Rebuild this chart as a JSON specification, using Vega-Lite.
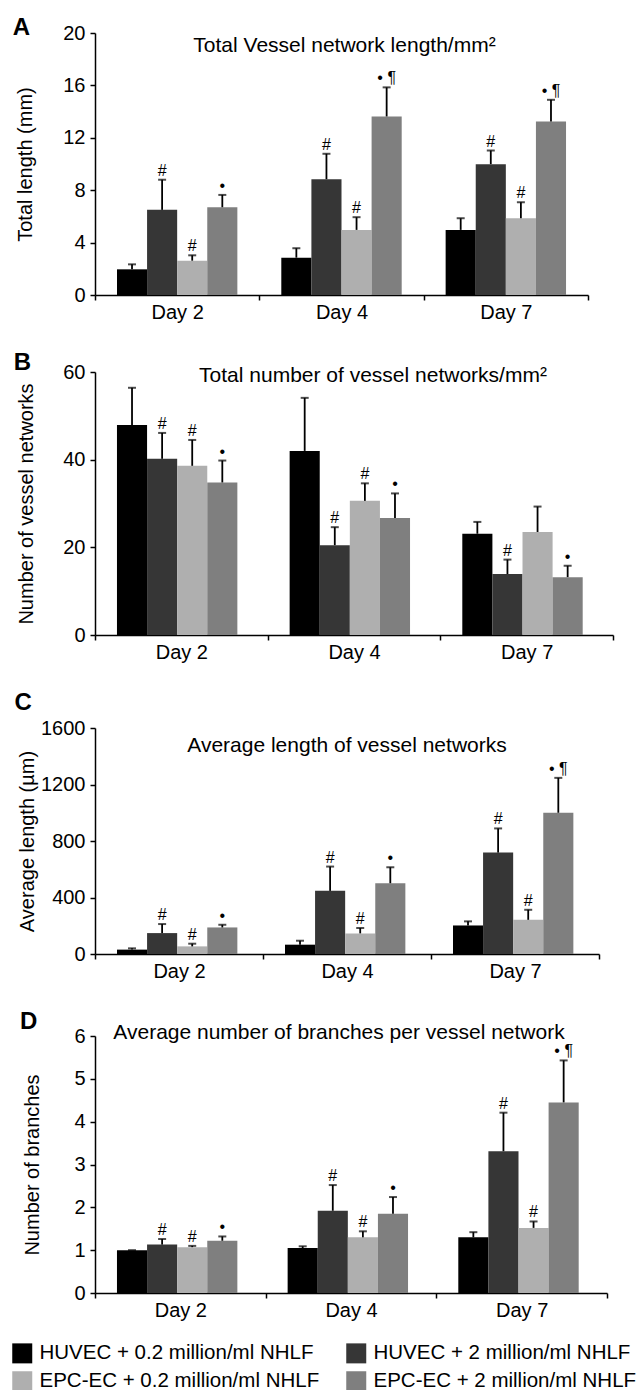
{
  "$schema": "https://vega.github.io/schema/vega-lite/v6.json",
  "padding": {"left": 12, "top": 16, "right": 0, "bottom": 0},
  "background": "#ffffff",
  "datasets": {
    "bars": [
      {"panel": "A", "day": "Day 2", "group": "HUVEC + 0.2 million/ml NHLF", "value": 1.96, "hi": 2.34, "sig": ""},
      {"panel": "A", "day": "Day 2", "group": "HUVEC + 2 million/ml NHLF", "value": 6.5, "hi": 8.8, "sig": "#"},
      {"panel": "A", "day": "Day 2", "group": "EPC-EC + 0.2 million/ml NHLF", "value": 2.62, "hi": 3.03, "sig": "#"},
      {"panel": "A", "day": "Day 2", "group": "EPC-EC + 2 million/ml NHLF", "value": 6.7, "hi": 7.64, "sig": "•"},
      {"panel": "A", "day": "Day 4", "group": "HUVEC + 0.2 million/ml NHLF", "value": 2.85, "hi": 3.57, "sig": ""},
      {"panel": "A", "day": "Day 4", "group": "HUVEC + 2 million/ml NHLF", "value": 8.84, "hi": 10.78, "sig": "#"},
      {"panel": "A", "day": "Day 4", "group": "EPC-EC + 0.2 million/ml NHLF", "value": 4.97, "hi": 5.94, "sig": "#"},
      {"panel": "A", "day": "Day 4", "group": "EPC-EC + 2 million/ml NHLF", "value": 13.63, "hi": 15.85, "sig": "• ¶"},
      {"panel": "A", "day": "Day 7", "group": "HUVEC + 0.2 million/ml NHLF", "value": 4.97, "hi": 5.86, "sig": ""},
      {"panel": "A", "day": "Day 7", "group": "HUVEC + 2 million/ml NHLF", "value": 9.99, "hi": 11.03, "sig": "#"},
      {"panel": "A", "day": "Day 7", "group": "EPC-EC + 0.2 million/ml NHLF", "value": 5.86, "hi": 7.08, "sig": "#"},
      {"panel": "A", "day": "Day 7", "group": "EPC-EC + 2 million/ml NHLF", "value": 13.25, "hi": 14.9, "sig": "• ¶"},

      {"panel": "B", "day": "Day 2", "group": "HUVEC + 0.2 million/ml NHLF", "value": 47.9, "hi": 56.4, "sig": ""},
      {"panel": "B", "day": "Day 2", "group": "HUVEC + 2 million/ml NHLF", "value": 40.2, "hi": 46.1, "sig": "#"},
      {"panel": "B", "day": "Day 2", "group": "EPC-EC + 0.2 million/ml NHLF", "value": 38.6, "hi": 44.5, "sig": "#"},
      {"panel": "B", "day": "Day 2", "group": "EPC-EC + 2 million/ml NHLF", "value": 34.8, "hi": 39.8, "sig": "•"},
      {"panel": "B", "day": "Day 4", "group": "HUVEC + 0.2 million/ml NHLF", "value": 42.0, "hi": 54.1, "sig": ""},
      {"panel": "B", "day": "Day 4", "group": "HUVEC + 2 million/ml NHLF", "value": 20.5, "hi": 24.6, "sig": "#"},
      {"panel": "B", "day": "Day 4", "group": "EPC-EC + 0.2 million/ml NHLF", "value": 30.6, "hi": 34.6, "sig": "#"},
      {"panel": "B", "day": "Day 4", "group": "EPC-EC + 2 million/ml NHLF", "value": 26.7, "hi": 32.3, "sig": "•"},
      {"panel": "B", "day": "Day 7", "group": "HUVEC + 0.2 million/ml NHLF", "value": 23.1, "hi": 25.8, "sig": ""},
      {"panel": "B", "day": "Day 7", "group": "HUVEC + 2 million/ml NHLF", "value": 13.9, "hi": 17.2, "sig": "#"},
      {"panel": "B", "day": "Day 7", "group": "EPC-EC + 0.2 million/ml NHLF", "value": 23.5, "hi": 29.3, "sig": ""},
      {"panel": "B", "day": "Day 7", "group": "EPC-EC + 2 million/ml NHLF", "value": 13.2, "hi": 15.8, "sig": "•"},

      {"panel": "C", "day": "Day 2", "group": "HUVEC + 0.2 million/ml NHLF", "value": 31, "hi": 40, "sig": ""},
      {"panel": "C", "day": "Day 2", "group": "HUVEC + 2 million/ml NHLF", "value": 148, "hi": 212, "sig": "#"},
      {"panel": "C", "day": "Day 2", "group": "EPC-EC + 0.2 million/ml NHLF", "value": 54, "hi": 73, "sig": "#"},
      {"panel": "C", "day": "Day 2", "group": "EPC-EC + 2 million/ml NHLF", "value": 188, "hi": 207, "sig": "•"},
      {"panel": "C", "day": "Day 4", "group": "HUVEC + 0.2 million/ml NHLF", "value": 66, "hi": 94, "sig": ""},
      {"panel": "C", "day": "Day 4", "group": "HUVEC + 2 million/ml NHLF", "value": 447, "hi": 619, "sig": "#"},
      {"panel": "C", "day": "Day 4", "group": "EPC-EC + 0.2 million/ml NHLF", "value": 146, "hi": 184, "sig": "#"},
      {"panel": "C", "day": "Day 4", "group": "EPC-EC + 2 million/ml NHLF", "value": 501, "hi": 614, "sig": "•"},
      {"panel": "C", "day": "Day 7", "group": "HUVEC + 0.2 million/ml NHLF", "value": 202, "hi": 231, "sig": ""},
      {"panel": "C", "day": "Day 7", "group": "HUVEC + 2 million/ml NHLF", "value": 718, "hi": 889, "sig": "#"},
      {"panel": "C", "day": "Day 7", "group": "EPC-EC + 0.2 million/ml NHLF", "value": 242, "hi": 313, "sig": "#"},
      {"panel": "C", "day": "Day 7", "group": "EPC-EC + 2 million/ml NHLF", "value": 1000, "hi": 1247, "sig": "• ¶"},

      {"panel": "D", "day": "Day 2", "group": "HUVEC + 0.2 million/ml NHLF", "value": 1.0, "hi": 1.0, "sig": ""},
      {"panel": "D", "day": "Day 2", "group": "HUVEC + 2 million/ml NHLF", "value": 1.13, "hi": 1.26, "sig": "#"},
      {"panel": "D", "day": "Day 2", "group": "EPC-EC + 0.2 million/ml NHLF", "value": 1.07, "hi": 1.1, "sig": "#"},
      {"panel": "D", "day": "Day 2", "group": "EPC-EC + 2 million/ml NHLF", "value": 1.22, "hi": 1.32, "sig": "•"},
      {"panel": "D", "day": "Day 4", "group": "HUVEC + 0.2 million/ml NHLF", "value": 1.05, "hi": 1.09, "sig": ""},
      {"panel": "D", "day": "Day 4", "group": "HUVEC + 2 million/ml NHLF", "value": 1.92, "hi": 2.52, "sig": "#"},
      {"panel": "D", "day": "Day 4", "group": "EPC-EC + 0.2 million/ml NHLF", "value": 1.3, "hi": 1.44, "sig": "#"},
      {"panel": "D", "day": "Day 4", "group": "EPC-EC + 2 million/ml NHLF", "value": 1.85, "hi": 2.24, "sig": "•"},
      {"panel": "D", "day": "Day 7", "group": "HUVEC + 0.2 million/ml NHLF", "value": 1.3, "hi": 1.42, "sig": ""},
      {"panel": "D", "day": "Day 7", "group": "HUVEC + 2 million/ml NHLF", "value": 3.31, "hi": 4.21, "sig": "#"},
      {"panel": "D", "day": "Day 7", "group": "EPC-EC + 0.2 million/ml NHLF", "value": 1.52, "hi": 1.67, "sig": "#"},
      {"panel": "D", "day": "Day 7", "group": "EPC-EC + 2 million/ml NHLF", "value": 4.45, "hi": 5.43, "sig": "• ¶"}
    ],
    "headings": [
      {"panel": "A", "label": "Total Vessel network length/mm²"},
      {"panel": "B", "label": "Total number of vessel networks/mm²"},
      {"panel": "C", "label": "Average length of vessel networks"},
      {"panel": "D", "label": "Average number of branches per vessel network"}
    ]
  },
  "spacing": 29,
  "vconcat": [
    {
      "width": 493, "height": 262,
      "title": {"text": "A", "offset": -17},
      "layer": [
        {
          "data": {"name": "bars"},
          "transform": [{"filter": "datum.panel === 'A'"}],
          "mark": {"type": "bar"},
          "encoding": {
            "x": {"field": "day", "type": "nominal", "scale": {"domain": ["Day 2", "Day 4", "Day 7"], "paddingInner": 0, "paddingOuter": 0}, "axis": {"title": null, "labelAngle": 0, "tickBand": "extent", "labelPadding": 2, "labelFontSize": 20}},
            "xOffset": {"field": "group", "type": "nominal", "scale": {"domain": ["HUVEC + 0.2 million/ml NHLF", "HUVEC + 2 million/ml NHLF", "EPC-EC + 0.2 million/ml NHLF", "EPC-EC + 2 million/ml NHLF"], "paddingOuter": 0.73, "paddingInner": 0}},
            "y": {"field": "value", "type": "quantitative", "scale": {"domain": [0, 20]}, "axis": {"values": [0, 4, 8, 12, 16, 20], "format": "d", "title": "Total length (mm)", "titlePadding": 27}},
            "color": {"field": "group", "type": "nominal", "scale": {"domain": ["HUVEC + 0.2 million/ml NHLF", "EPC-EC + 0.2 million/ml NHLF", "HUVEC + 2 million/ml NHLF", "EPC-EC + 2 million/ml NHLF"], "range": ["#000000", "#afafaf", "#363636", "#7f7f7f"]}, "legend": {"orient": "none", "legendX": -83, "legendY": 1310, "columns": 2, "title": null, "symbolType": "square", "symbolSize": 400, "symbolStrokeWidth": 0, "labelFontSize": 20.5, "labelColor": "#000", "columnPadding": 26, "rowPadding": 7, "labelOffset": 7, "labelLimit": 400}}
          }
        },
        {
          "data": {"name": "bars"},
          "transform": [{"filter": "datum.panel === 'A'"}],
          "mark": {"type": "rule", "strokeWidth": 1.8, "color": "#000"},
          "encoding": {"x": {"field": "day", "type": "nominal"}, "xOffset": {"field": "group", "type": "nominal"}, "y": {"field": "value", "type": "quantitative"}, "y2": {"field": "hi"}}
        },
        {
          "data": {"name": "bars"},
          "transform": [{"filter": "datum.panel === 'A'"}],
          "mark": {"type": "tick", "orient": "horizontal", "size": 8, "thickness": 2, "color": "#000"},
          "encoding": {"x": {"field": "day", "type": "nominal"}, "xOffset": {"field": "group", "type": "nominal"}, "y": {"field": "hi", "type": "quantitative"}}
        },
        {
          "data": {"name": "bars"},
          "transform": [{"filter": "datum.panel === 'A'"}],
          "mark": {"type": "text", "baseline": "alphabetic", "dy": -4, "fontSize": 16, "color": "#000"},
          "encoding": {"x": {"field": "day", "type": "nominal"}, "xOffset": {"field": "group", "type": "nominal"}, "y": {"field": "hi", "type": "quantitative"}, "text": {"field": "sig"}}
        },
        {
          "data": {"name": "headings"},
          "transform": [{"filter": "datum.panel === 'A'"}],
          "mark": {"type": "text", "fontSize": 21, "baseline": "middle", "dx": 3, "color": "#000"},
          "encoding": {"x": {"datum": "Day 4"}, "y": {"datum": 19.0, "type": "quantitative"}, "text": {"field": "label"}}
        }
      ]
    },
    {
      "width": 518, "height": 263,
      "title": {"text": "B", "offset": -13},
      "layer": [
        {
          "data": {"name": "bars"},
          "transform": [{"filter": "datum.panel === 'B'"}],
          "mark": {"type": "bar"},
          "encoding": {
            "x": {"field": "day", "type": "nominal", "scale": {"domain": ["Day 2", "Day 4", "Day 7"], "paddingInner": 0, "paddingOuter": 0}, "axis": {"title": null, "labelAngle": 0, "tickBand": "extent", "labelPadding": 2, "labelFontSize": 20}},
            "xOffset": {"field": "group", "type": "nominal", "scale": {"domain": ["HUVEC + 0.2 million/ml NHLF", "HUVEC + 2 million/ml NHLF", "EPC-EC + 0.2 million/ml NHLF", "EPC-EC + 2 million/ml NHLF"], "paddingOuter": 0.73, "paddingInner": 0}},
            "y": {"field": "value", "type": "quantitative", "scale": {"domain": [0, 60]}, "axis": {"values": [0, 20, 40, 60], "format": "d", "title": "Number of vessel networks", "titlePadding": 26}},
            "color": {"field": "group", "type": "nominal", "scale": {"domain": ["HUVEC + 0.2 million/ml NHLF", "EPC-EC + 0.2 million/ml NHLF", "HUVEC + 2 million/ml NHLF", "EPC-EC + 2 million/ml NHLF"], "range": ["#000000", "#afafaf", "#363636", "#7f7f7f"]}, "legend": {"orient": "none", "legendX": -83, "legendY": 1310, "columns": 2, "title": null, "symbolType": "square", "symbolSize": 400, "symbolStrokeWidth": 0, "labelFontSize": 20.5, "labelColor": "#000", "columnPadding": 26, "rowPadding": 7, "labelOffset": 7, "labelLimit": 400}}
          }
        },
        {
          "data": {"name": "bars"},
          "transform": [{"filter": "datum.panel === 'B'"}],
          "mark": {"type": "rule", "strokeWidth": 1.8, "color": "#000"},
          "encoding": {"x": {"field": "day", "type": "nominal"}, "xOffset": {"field": "group", "type": "nominal"}, "y": {"field": "value", "type": "quantitative"}, "y2": {"field": "hi"}}
        },
        {
          "data": {"name": "bars"},
          "transform": [{"filter": "datum.panel === 'B'"}],
          "mark": {"type": "tick", "orient": "horizontal", "size": 8, "thickness": 2, "color": "#000"},
          "encoding": {"x": {"field": "day", "type": "nominal"}, "xOffset": {"field": "group", "type": "nominal"}, "y": {"field": "hi", "type": "quantitative"}}
        },
        {
          "data": {"name": "bars"},
          "transform": [{"filter": "datum.panel === 'B'"}],
          "mark": {"type": "text", "baseline": "alphabetic", "dy": -4, "fontSize": 16, "color": "#000"},
          "encoding": {"x": {"field": "day", "type": "nominal"}, "xOffset": {"field": "group", "type": "nominal"}, "y": {"field": "hi", "type": "quantitative"}, "text": {"field": "sig"}}
        },
        {
          "data": {"name": "headings"},
          "transform": [{"filter": "datum.panel === 'B'"}],
          "mark": {"type": "text", "fontSize": 21, "baseline": "middle", "dx": 19, "color": "#000"},
          "encoding": {"x": {"datum": "Day 4"}, "y": {"datum": 59.0, "type": "quantitative"}, "text": {"field": "label"}}
        }
      ]
    },
    {
      "width": 504, "height": 226,
      "title": {"text": "C", "offset": 3},
      "layer": [
        {
          "data": {"name": "bars"},
          "transform": [{"filter": "datum.panel === 'C'"}],
          "mark": {"type": "bar"},
          "encoding": {
            "x": {"field": "day", "type": "nominal", "scale": {"domain": ["Day 2", "Day 4", "Day 7"], "paddingInner": 0, "paddingOuter": 0}, "axis": {"title": null, "labelAngle": 0, "tickBand": "extent", "labelPadding": 2, "labelFontSize": 20}},
            "xOffset": {"field": "group", "type": "nominal", "scale": {"domain": ["HUVEC + 0.2 million/ml NHLF", "HUVEC + 2 million/ml NHLF", "EPC-EC + 0.2 million/ml NHLF", "EPC-EC + 2 million/ml NHLF"], "paddingOuter": 0.73, "paddingInner": 0}},
            "y": {"field": "value", "type": "quantitative", "scale": {"domain": [0, 1600]}, "axis": {"values": [0, 400, 800, 1200, 1600], "format": "d", "title": "Average length (µm)", "titlePadding": 3}},
            "color": {"field": "group", "type": "nominal", "scale": {"domain": ["HUVEC + 0.2 million/ml NHLF", "EPC-EC + 0.2 million/ml NHLF", "HUVEC + 2 million/ml NHLF", "EPC-EC + 2 million/ml NHLF"], "range": ["#000000", "#afafaf", "#363636", "#7f7f7f"]}, "legend": {"orient": "none", "legendX": -83, "legendY": 1310, "columns": 2, "title": null, "symbolType": "square", "symbolSize": 400, "symbolStrokeWidth": 0, "labelFontSize": 20.5, "labelColor": "#000", "columnPadding": 26, "rowPadding": 7, "labelOffset": 7, "labelLimit": 400}}
          }
        },
        {
          "data": {"name": "bars"},
          "transform": [{"filter": "datum.panel === 'C'"}],
          "mark": {"type": "rule", "strokeWidth": 1.8, "color": "#000"},
          "encoding": {"x": {"field": "day", "type": "nominal"}, "xOffset": {"field": "group", "type": "nominal"}, "y": {"field": "value", "type": "quantitative"}, "y2": {"field": "hi"}}
        },
        {
          "data": {"name": "bars"},
          "transform": [{"filter": "datum.panel === 'C'"}],
          "mark": {"type": "tick", "orient": "horizontal", "size": 8, "thickness": 2, "color": "#000"},
          "encoding": {"x": {"field": "day", "type": "nominal"}, "xOffset": {"field": "group", "type": "nominal"}, "y": {"field": "hi", "type": "quantitative"}}
        },
        {
          "data": {"name": "bars"},
          "transform": [{"filter": "datum.panel === 'C'"}],
          "mark": {"type": "text", "baseline": "alphabetic", "dy": -4, "fontSize": 16, "color": "#000"},
          "encoding": {"x": {"field": "day", "type": "nominal"}, "xOffset": {"field": "group", "type": "nominal"}, "y": {"field": "hi", "type": "quantitative"}, "text": {"field": "sig"}}
        },
        {
          "data": {"name": "headings"},
          "transform": [{"filter": "datum.panel === 'C'"}],
          "mark": {"type": "text", "fontSize": 21, "baseline": "middle", "dx": 0, "color": "#000"},
          "encoding": {"x": {"datum": "Day 4"}, "y": {"datum": 1473, "type": "quantitative"}, "text": {"field": "label"}}
        }
      ]
    },
    {
      "width": 512, "height": 257,
      "title": {"text": "D", "offset": -12},
      "layer": [
        {
          "data": {"name": "bars"},
          "transform": [{"filter": "datum.panel === 'D'"}],
          "mark": {"type": "bar"},
          "encoding": {
            "x": {"field": "day", "type": "nominal", "scale": {"domain": ["Day 2", "Day 4", "Day 7"], "paddingInner": 0, "paddingOuter": 0}, "axis": {"title": null, "labelAngle": 0, "tickBand": "extent", "labelPadding": 2, "labelFontSize": 20}},
            "xOffset": {"field": "group", "type": "nominal", "scale": {"domain": ["HUVEC + 0.2 million/ml NHLF", "HUVEC + 2 million/ml NHLF", "EPC-EC + 0.2 million/ml NHLF", "EPC-EC + 2 million/ml NHLF"], "paddingOuter": 0.75, "paddingInner": 0}},
            "y": {"field": "value", "type": "quantitative", "scale": {"domain": [0, 6]}, "axis": {"values": [0, 1, 2, 3, 4, 5, 6], "format": "d", "title": "Number of branches", "titlePadding": 31}},
            "color": {"field": "group", "type": "nominal", "scale": {"domain": ["HUVEC + 0.2 million/ml NHLF", "EPC-EC + 0.2 million/ml NHLF", "HUVEC + 2 million/ml NHLF", "EPC-EC + 2 million/ml NHLF"], "range": ["#000000", "#afafaf", "#363636", "#7f7f7f"]}, "legend": {"orient": "none", "legendX": -83, "legendY": 1310, "columns": 2, "title": null, "symbolType": "square", "symbolSize": 400, "symbolStrokeWidth": 0, "labelFontSize": 20.5, "labelColor": "#000", "columnPadding": 26, "rowPadding": 7, "labelOffset": 7, "labelLimit": 400}}
          }
        },
        {
          "data": {"name": "bars"},
          "transform": [{"filter": "datum.panel === 'D'"}],
          "mark": {"type": "rule", "strokeWidth": 1.8, "color": "#000"},
          "encoding": {"x": {"field": "day", "type": "nominal"}, "xOffset": {"field": "group", "type": "nominal"}, "y": {"field": "value", "type": "quantitative"}, "y2": {"field": "hi"}}
        },
        {
          "data": {"name": "bars"},
          "transform": [{"filter": "datum.panel === 'D'"}],
          "mark": {"type": "tick", "orient": "horizontal", "size": 8, "thickness": 2, "color": "#000"},
          "encoding": {"x": {"field": "day", "type": "nominal"}, "xOffset": {"field": "group", "type": "nominal"}, "y": {"field": "hi", "type": "quantitative"}}
        },
        {
          "data": {"name": "bars"},
          "transform": [{"filter": "datum.panel === 'D'"}],
          "mark": {"type": "text", "baseline": "alphabetic", "dy": -4, "fontSize": 16, "color": "#000"},
          "encoding": {"x": {"field": "day", "type": "nominal"}, "xOffset": {"field": "group", "type": "nominal"}, "y": {"field": "hi", "type": "quantitative"}, "text": {"field": "sig"}}
        },
        {
          "data": {"name": "headings"},
          "transform": [{"filter": "datum.panel === 'D'"}],
          "mark": {"type": "text", "fontSize": 21, "baseline": "middle", "dx": -12, "color": "#000"},
          "encoding": {"x": {"datum": "Day 4"}, "y": {"datum": 6.07, "type": "quantitative"}, "text": {"field": "label"}}
        }
      ]
    }
  ],
  "config": {
    "font": "Liberation Sans",
    "view": {"stroke": null},
    "title": {"anchor": "start", "frame": "bounds", "fontSize": 24, "fontWeight": "bold", "color": "#000", "dx": -3},
    "axis": {"domainColor": "#000", "domainWidth": 1.5, "tickColor": "#000", "tickWidth": 1.5, "tickSize": 5, "labelColor": "#000", "labelFontSize": 20, "labelPadding": 5, "titleFontSize": 20, "titleFontWeight": "normal", "titleColor": "#000", "grid": false}
  }
}
